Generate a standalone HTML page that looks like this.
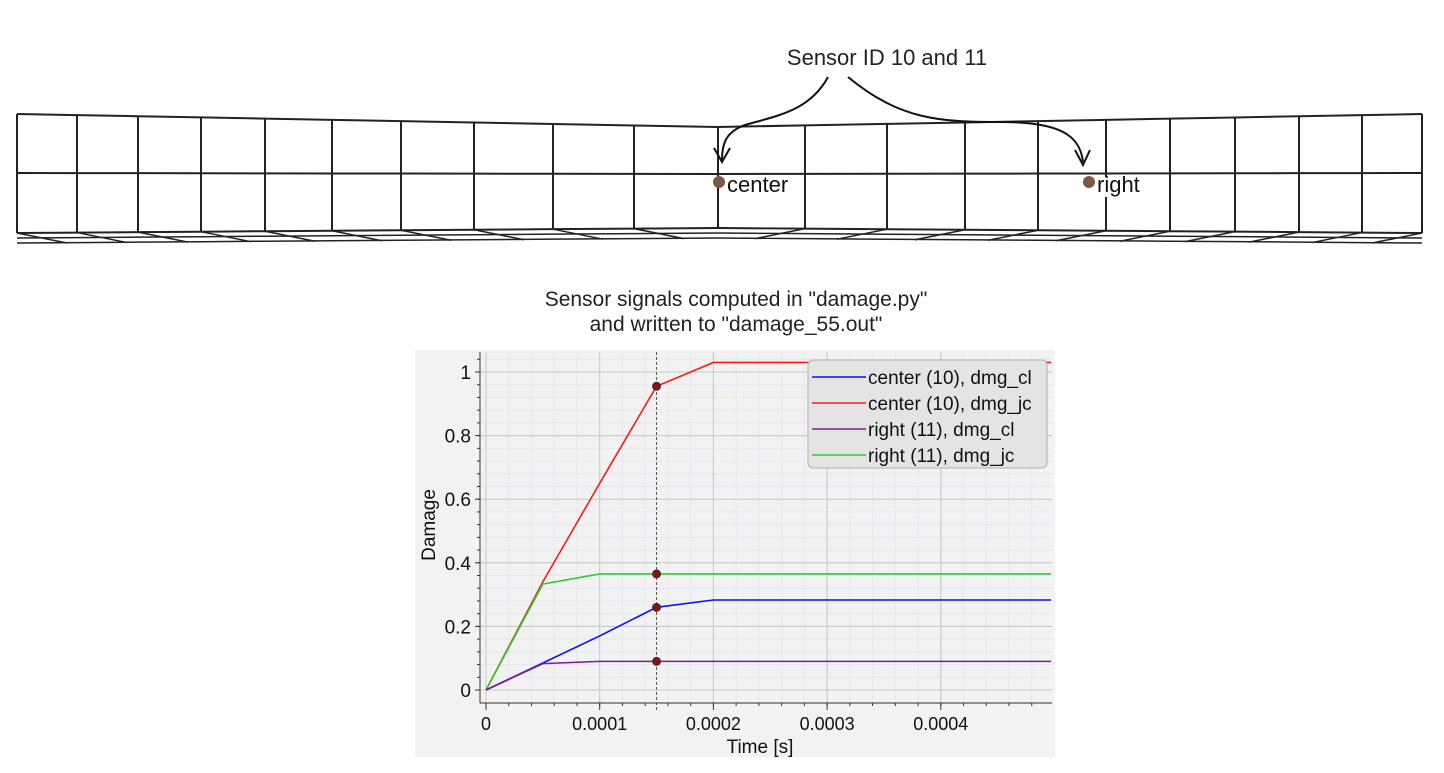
<!DOCTYPE html>
<html><head><meta charset="utf-8"><style>
body{margin:0;width:1444px;height:773px;background:#fff;overflow:hidden;font-family:"Liberation Sans",sans-serif}
svg{position:absolute;left:0;top:0}
</style></head><body>
<svg id="s" width="1444" height="773" xmlns="http://www.w3.org/2000/svg">
<text x="887" y="65" font-size="22" text-anchor="middle" fill="#222">Sensor ID 10 and 11</text>
<text x="736" y="306" font-size="21" text-anchor="middle" fill="#222">Sensor signals computed in "damage.py"</text>
<text x="736" y="331" font-size="21" text-anchor="middle" fill="#222">and written to "damage_55.out"</text>
<g id="mesh" stroke="#222" stroke-width="2" fill="none"></g>
<g id="chart"></g>
</svg>
<script>
const NS="http://www.w3.org/2000/svg";
function el(p,t,a,txt){const e=document.createElementNS(NS,t);for(const k in a)e.setAttribute(k,a[k]);if(txt!==undefined)e.textContent=txt;p.appendChild(e);return e;}
const m=document.getElementById('mesh');
const xs=[17,77,138,201,265,332,401,474,553,634,718,805,887,965,1038,1106,1170,1235,1299,1362,1422];
function topY(x){return x<=718?114+(x-17)/(701)*13:127-(x-718)/(704)*13;}
function botY(x){return x<=718?233-(x-17)/701*5:228+(x-718)/704*5;}
function b2(x){return botY(x)+5;} function b3(x){return botY(x)+10;}
el(m,'polyline',{points:xs.map(x=>x+','+topY(x)).join(' ')});
el(m,'polyline',{points:xs.map(x=>x+','+(174-Math.abs(x-718)/700)).join(' ')});
el(m,'polyline',{points:xs.map(x=>x+','+botY(x)).join(' ')});
el(m,'polyline',{points:xs.map(x=>x+','+b2(x)).join(' '),'stroke-width':1.5});
el(m,'polyline',{points:xs.map(x=>x+','+b3(x)).join(' '),'stroke-width':1.5});
xs.forEach((x,i)=>{el(m,'line',{x1:x,y1:topY(x),x2:x,y2:botY(x)});
 const dx=x<718?50:-50; if(x!=718) el(m,'line',{x1:x,y1:botY(x),x2:x+dx,y2:b3(x),'stroke-width':1.5});
});
el(m,'rect',{x:727,y:177,width:72,height:20,fill:'#fff',stroke:'none'});
el(m,'rect',{x:1097,y:177,width:55,height:20,fill:'#fff',stroke:'none'});
const s=document.getElementById('s');
el(s,'text',{x:727,y:192,'font-size':22,fill:'#111'},'center');
el(s,'text',{x:1097,y:192,'font-size':22,fill:'#111'},'right');
el(s,'circle',{cx:719,cy:182,r:6,fill:'#7a5a44'});
el(s,'circle',{cx:1089,cy:182,r:6,fill:'#7a5a44'});
el(s,'path',{d:'M828,77 C810,110 780,115 745,125 C725,132 722,145 722,160',stroke:'#111','stroke-width':2,fill:'none'});
el(s,'path',{d:'M714,148 L722,162 L730,148',stroke:'#111','stroke-width':2,fill:'none'});
el(s,'path',{d:'M848,77 C900,120 940,122 1000,122 C1060,122 1080,135 1083,162',stroke:'#111','stroke-width':2,fill:'none'});
el(s,'path',{d:'M1075,150 L1083,165 L1090,150',stroke:'#111','stroke-width':2,fill:'none'});
const c=document.getElementById('chart');
el(c,'rect',{x:415,y:350,width:640,height:407,fill:'#f2f2f2'});
const X=t=>486+t*113.7e4, Y=v=>690-v*318;
const L=480,R=1052,T=352,B=703;
for(let t=0.2e-4;t<5e-4;t+=0.2e-4){el(c,'line',{x1:X(t),y1:T,x2:X(t),y2:B,stroke:'#e6e6f2','stroke-width':1});}
for(let v=-0.04;v<1.06;v+=0.04){el(c,'line',{x1:L,y1:Y(v),x2:R,y2:Y(v),stroke:'#e6e6f2','stroke-width':1});}
for(let i=0;i<=4;i++){el(c,'line',{x1:X(i*1e-4),y1:T,x2:X(i*1e-4),y2:B,stroke:'#c8c8c8'});}
for(let i=0;i<=5;i++){el(c,'line',{x1:L,y1:Y(i*0.2),x2:R,y2:Y(i*0.2),stroke:'#c8c8c8'});}
el(c,'line',{x1:L,y1:T,x2:L,y2:B,stroke:'#333'});
el(c,'line',{x1:L,y1:B,x2:R,y2:B,stroke:'#333'});
for(let i=0;i<=5;i++){el(c,'line',{x1:L-5,y1:Y(i*0.2),x2:L,y2:Y(i*0.2),stroke:'#333'});
 el(c,'text',{x:L-9,y:Y(i*0.2)+7,'font-size':19,'text-anchor':'end',fill:'#111'},i==0?'0':i==5?'1':(i*0.2).toFixed(1));}
for(let v=0.04;v<1.06;v+=0.04){el(c,'line',{x1:L-3,y1:Y(v),x2:L,y2:Y(v),stroke:'#333'});}
for(let i=0;i<=4;i++){el(c,'line',{x1:X(i*1e-4),y1:B,x2:X(i*1e-4),y2:B+7,stroke:'#333'});
 el(c,'text',{x:X(i*1e-4),y:B+27,'font-size':18,'text-anchor':'middle',fill:'#111'},i==0?'0':'0.000'+i);}
for(let t=0.2e-4;t<5e-4;t+=0.2e-4){el(c,'line',{x1:X(t),y1:B,x2:X(t),y2:B+3,stroke:'#333'});}
el(c,'text',{x:760,y:753,'font-size':19,'text-anchor':'middle',fill:'#111'},'Time [s]');
el(c,'text',{x:0,y:0,'font-size':19,'text-anchor':'middle',fill:'#111',transform:'translate(435,525) rotate(-90)'},'Damage');
const E=4.97e-4;
const series=[['#ff1a1a',[[0,0],[0.5e-4,0.34],[1e-4,0.65],[1.5e-4,0.955],[2e-4,1.03],[E,1.03]]],
['#2ecc2e',[[0,0],[0.5e-4,0.333],[1e-4,0.365],[E,0.365]]],
['#1010ee',[[0,0],[0.5e-4,0.085],[1e-4,0.17],[1.5e-4,0.26],[2e-4,0.283],[E,0.283]]],
['#7a1f8a',[[0,0],[0.5e-4,0.083],[1e-4,0.09],[E,0.09]]]];
series.forEach(([col,p])=>el(c,'polyline',{points:p.map(q=>X(q[0])+','+Y(q[1])).join(' '),fill:'none',stroke:col,'stroke-width':1.6}));
el(c,'line',{x1:X(1.5e-4),y1:T,x2:X(1.5e-4),y2:B+8,stroke:'#555','stroke-dasharray':'3,2'});
[0.955,0.365,0.26,0.09].forEach(v=>el(c,'circle',{cx:X(1.5e-4),cy:Y(v),r:4,fill:'#8b1010',stroke:'#333'}));
el(c,'rect',{x:808,y:360,width:239,height:108,rx:5,fill:'#e4e4e4',stroke:'#b0b0b0'});
const lg=[['#1010ee','center (10), dmg_cl'],['#ff1a1a','center (10), dmg_jc'],['#7a1f8a','right (11), dmg_cl'],['#2ecc2e','right (11), dmg_jc']];
lg.forEach(([col,t],i)=>{const y=377+i*26;el(c,'line',{x1:812,y1:y,x2:866,y2:y,stroke:col,'stroke-width':1.6});
 el(c,'text',{x:868,y:y+7,'font-size':19,fill:'#111'},t);});
</script>
</body></html>
